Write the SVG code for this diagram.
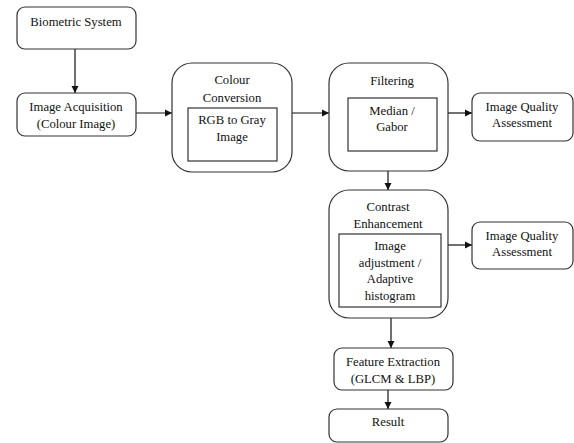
<svg xmlns="http://www.w3.org/2000/svg" width="574" height="443" viewBox="0 0 574 443">
<style>
.box{fill:#fff;stroke:#333;stroke-width:1.2}
.in{fill:#fff;stroke:#333;stroke-width:1.2}
text{font-family:'Liberation Serif','Times New Roman',serif;font-size:12.7px;fill:#111;text-anchor:middle;dominant-baseline:central}
.c{stroke:#111;stroke-width:1.2;fill:none;marker-end:url(#a)}
</style>
<defs>
<marker id="a" markerWidth="8" markerHeight="8" refX="7" refY="4" orient="auto" markerUnits="userSpaceOnUse">
<path d="M0,0.5 L7,4 L0,7.5 Z" fill="#111"/>
</marker>
</defs>
<rect width="574" height="443" fill="#fff"/>
<g id="connectors">
<line class="c" x1="75" y1="49" x2="75" y2="93"/>
<line class="c" x1="136" y1="113" x2="172" y2="113"/>
<line class="c" x1="292" y1="113" x2="329" y2="113"/>
<line class="c" x1="448" y1="113" x2="472" y2="113"/>
<line class="c" x1="388" y1="171" x2="388" y2="190"/>
<line class="c" x1="448" y1="245" x2="472" y2="245"/>
<line class="c" x1="391" y1="318" x2="391" y2="348"/>
<line class="c" x1="388" y1="390" x2="388" y2="409"/>
</g>
<g id="biometric">
<rect class="box" x="17" y="7" width="119" height="42" rx="8"/>
<text x="76" y="22">Biometric System</text>
</g>
<g id="acquisition">
<rect class="box" x="17" y="93" width="119" height="43" rx="8"/>
<text x="76" y="107">Image Acquisition</text>
<text x="76" y="124">(Colour Image)</text>
</g>
<g id="colour">
<rect class="box" x="172" y="63" width="120" height="109" rx="20"/>
<text x="232" y="80">Colour</text>
<text x="232" y="98">Conversion</text>
<rect class="in" x="188" y="108" width="89" height="53"/>
<text x="232" y="120">RGB to Gray</text>
<text x="232" y="137">Image</text>
</g>
<g id="filtering">
<rect class="box" x="329" y="63" width="119" height="108" rx="20"/>
<text x="392" y="81">Filtering</text>
<rect class="in" x="348" y="98" width="89" height="53"/>
<text x="392" y="111">Median /</text>
<text x="392" y="127">Gabor</text>
</g>
<g id="iqa1">
<rect class="box" x="472" y="93" width="101" height="48" rx="8"/>
<text x="522" y="107">Image Quality</text>
<text x="522" y="123">Assessment</text>
</g>
<g id="contrast">
<rect class="box" x="329" y="190" width="119" height="128" rx="20"/>
<text x="388" y="207">Contrast</text>
<text x="388" y="224">Enhancement</text>
<rect class="in" x="339" y="234" width="102" height="73"/>
<text x="390" y="246">Image</text>
<text x="390" y="263">adjustment /</text>
<text x="390" y="279">Adaptive</text>
<text x="390" y="296">histogram</text>
</g>
<g id="iqa2">
<rect class="box" x="472" y="222" width="101" height="47" rx="8"/>
<text x="522" y="236">Image Quality</text>
<text x="522" y="252">Assessment</text>
</g>
<g id="feature">
<rect class="box" x="334" y="348" width="119" height="42" rx="8"/>
<text x="393" y="362">Feature Extraction</text>
<text x="393" y="379">(GLCM &amp; LBP)</text>
</g>
<g id="result">
<rect class="box" x="329" y="409" width="119" height="33" rx="8"/>
<text x="388" y="422">Result</text>
</g>
</svg>
